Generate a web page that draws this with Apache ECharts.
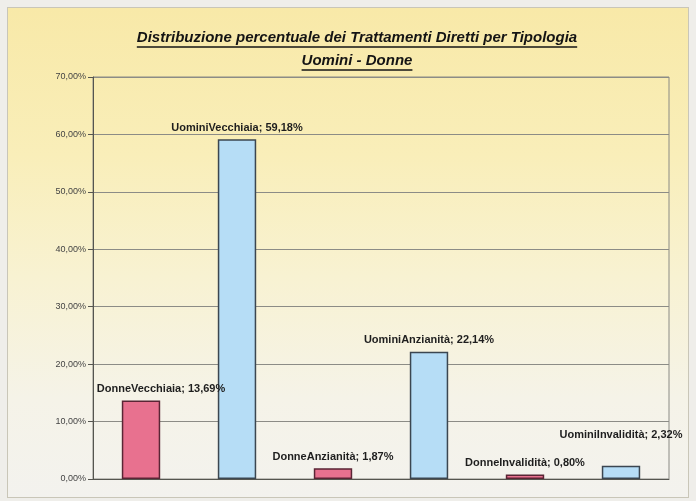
<!DOCTYPE html>
<html>
<head>
<meta charset="utf-8">
<script src="https://cdn.jsdelivr.net/npm/echarts@6/dist/echarts.min.js"></script>
<style>
  html, body { margin: 0; padding: 0; background: #efeeea; }
  #bg { position: absolute; left: 7px; top: 7px; width: 680px; height: 489px;
        border: 1px solid #c9c6b8;
        background: linear-gradient(to bottom, #f8e9a8 0%, #f9eeb9 30%, #f8f2d2 55%, #f5f3e8 80%, #f3f2ee 100%); }
  #chart { position: absolute; left: 0; top: 0; width: 696px; height: 501px; }
</style>
</head>
<body>
<div id="bg"></div>
<div id="chart"></div>
<script>
const titleLine1 = 'Distribuzione percentuale dei Trattamenti Diretti per Tipologia';
const titleLine2 = 'Uomini - Donne';
const categories = ['DonneVecchiaia', 'UominiVecchiaia', 'DonneAnzianità', 'UominiAnzianità', 'DonneInvalidità', 'UominiInvalidità'];
const values = [13.69, 59.18, 1.87, 22.14, 0.80, 2.32];
const groups = ['Donne', 'Uomini', 'Donne', 'Uomini', 'Donne', 'Uomini'];
const yTicks = [0, 10, 20, 30, 40, 50, 60, 70];

const colors = {
  Donne: { fill: '#e8718f', border: '#5a2535' },
  Uomini: { fill: '#b6ddf6', border: '#3b4650' }
};
const labelOffsets = { 'DonneVecchiaia': [20, 0], 'UominiInvalidità': [0, -19] };

function fmt(v) { return v.toFixed(2).replace('.', ',') + '%'; }

const FAMILY = 'Liberation Sans';
const titleStyle = { fontFamily: FAMILY, fontSize: 15, fontWeight: 'bold', fontStyle: 'italic' };
const ctx = document.createElement('canvas').getContext('2d');
ctx.font = 'italic bold 15px "Liberation Sans"';
const w1 = ctx.measureText(titleLine1).width;
const w2 = ctx.measureText(titleLine2).width;
const cx = 357;

const chart = echarts.init(document.getElementById('chart'), null, { renderer: 'canvas' });
chart.setOption({
  backgroundColor: 'transparent',
  animation: false,
  graphic: [
    { type: 'text', left: cx - w1 / 2, top: 30, style: Object.assign({ text: titleLine1, fill: '#141414' }, titleStyle) },
    { type: 'text', left: cx - w2 / 2, top: 53, style: Object.assign({ text: titleLine2, fill: '#141414' }, titleStyle) },
    { type: 'line', shape: { x1: cx - w1 / 2, y1: 47, x2: cx + w1 / 2, y2: 47 }, style: { stroke: '#141414', lineWidth: 1.5 } },
    { type: 'line', shape: { x1: cx - w2 / 2, y1: 70, x2: cx + w2 / 2, y2: 70 }, style: { stroke: '#141414', lineWidth: 1.5 } }
  ],
  grid: { left: 93, right: 27, top: 77, bottom: 22, show: true, borderColor: '#8a8a84', borderWidth: 1, backgroundColor: 'transparent' },
  xAxis: {
    type: 'category',
    data: categories,
    axisLine: { lineStyle: { color: '#55554f', width: 1 } },
    axisTick: { show: false },
    axisLabel: { show: false }
  },
  yAxis: {
    type: 'value',
    min: yTicks[0],
    max: yTicks[yTicks.length - 1],
    interval: 10,
    axisLine: { show: true, lineStyle: { color: '#55554f', width: 1 } },
    axisTick: { show: true, length: 5, inside: false, lineStyle: { color: '#55554f' } },
    axisLabel: { fontSize: 9, color: '#444', fontFamily: FAMILY, margin: 7, formatter: v => fmt(v) },
    splitLine: { lineStyle: { color: '#8c8c86', width: 1 } }
  },
  series: [{
    type: 'bar',
    barWidth: '40%',
    data: values.map((v, i) => ({
      value: v,
      itemStyle: { color: colors[groups[i]].fill, borderColor: colors[groups[i]].border, borderWidth: 1.5 },
      label: { offset: labelOffsets[categories[i]] || [0, 0] }
    })),
    label: {
      show: true,
      position: 'top',
      distance: 6,
      fontSize: 11,
      fontWeight: 'bold',
      color: '#1e1e1e',
      fontFamily: FAMILY,
      formatter: p => p.name + '; ' + fmt(p.value)
    }
  }]
});
</script>
</body>
</html>
